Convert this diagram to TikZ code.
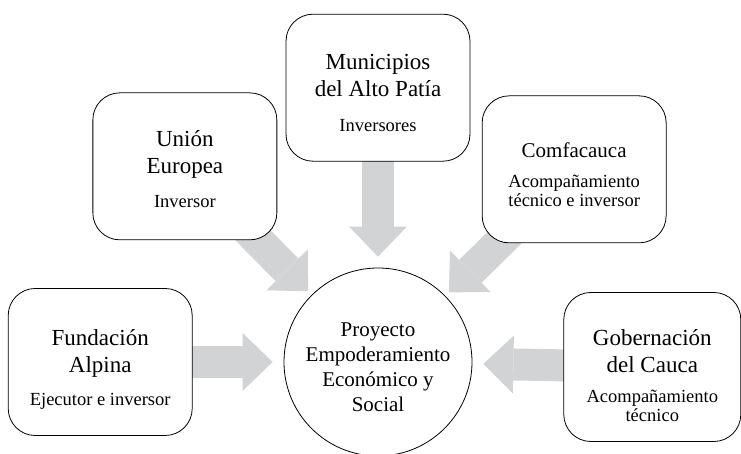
\documentclass[tikz,border=0pt]{standalone}
\usepackage{fontspec}
\setmainfont{Liberation Serif}
\usetikzlibrary{positioning}
\usetikzlibrary{arrows.meta}
\usetikzlibrary{backgrounds}
\definecolor{flechagris}{RGB}{209,211,212}
\newcommand{\subtitulo}{\fontsize{18.5}{20}\selectfont}

\begin{document}
\begin{tikzpicture}[x=1pt,y=1pt,
         caja/.style = {draw, line width=0.8pt, fill=white, rounded corners=27pt,
            minimum width=184pt, minimum height=147pt, align=center,
            font=\fontsize{23}{27}\selectfont},
         centro/.style = {draw, circle, line width=0.8pt, fill=white,
            minimum size=188pt, inner sep=0pt, align=center,
            font=\fontsize{21}{25}\selectfont},
         flecha/.style = {draw=flechagris, line width=32pt,
            -{Triangle[length=30pt,width=58pt,line width=0pt]}}
]
   \useasboundingbox (0,0) rectangle (741,454);

   % proyecto en el centro
   \node[centro] (proyecto) at (378,92)
      {\rule{0pt}{24pt}Proyecto\\Empoderamiento\\Económico y\\Social};

   % actores alrededor (el \rule baja un poco el texto en la caja)
   \node[caja, left=91pt of proyecto] (fundacion)
      {\rule{0pt}{30pt}Fundación\\Alpina\\[6pt]\subtitulo Ejecutor e inversor};
   \node[caja, right=91pt of proyecto, yshift=-5pt,
         minimum width=177pt, minimum height=149pt] (gobernacion)
      {\rule{0pt}{34pt}Gobernación\\del Cauca\\[3pt]\subtitulo Acompañamiento\\[-8pt]\subtitulo técnico};
   \node[caja, above=106pt of proyecto] (municipios)
      {\rule{0pt}{26pt}Municipios\\del Alto Patía\\[8pt]\subtitulo Inversores};
   \node[caja, above left=55pt and 34pt of proyecto] (union)
      {\rule{0pt}{22pt}Unión\\Europea\\[7pt]\subtitulo Inversor};
   \node[caja, above right=52pt and 37pt of proyecto,
         font=\fontsize{21}{27}\selectfont] (comfacauca)
      {\rule{0pt}{26pt}Comfacauca\\[3pt]\subtitulo Acompañamiento\\[-8pt]\subtitulo técnico e inversor};

   % flechas grises hacia el proyecto
   \begin{scope}[on background layer]
      \draw[flecha, shorten >=11pt] (fundacion.center) -- (proyecto);
      \draw[flecha, shorten >=11pt] (gobernacion.center) -- (proyecto);
      \draw[flecha, shorten >=11pt] (municipios.center) -- (proyecto);
      \draw[flecha, shorten >=5pt] (union.center) -- (proyecto);
      \draw[flecha, shorten >=5pt] (comfacauca.center) -- (proyecto);
   \end{scope}
\end{tikzpicture}
\end{document}
